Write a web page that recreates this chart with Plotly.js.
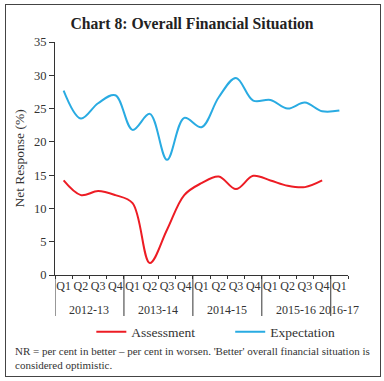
<!DOCTYPE html>
<html><head><meta charset="utf-8">
<script src="https://cdn.plot.ly/plotly-3.0.1.min.js"></script>
<style>
html,body{margin:0;padding:0;background:#fff;}
#wrap{position:relative;width:384px;height:381px;}
#chart{width:384px;height:381px;}
#frame{position:absolute;left:5px;top:4px;width:374px;height:371px;border:1.5px solid #444;pointer-events:none;}
</style>
</head><body>
<div id="wrap"><div id="chart"></div><div id="frame"></div></div>
<script>
const years = ["2012-13","2012-13","2012-13","2012-13","2013-14","2013-14","2013-14","2013-14","2014-15","2014-15","2014-15","2014-15","2015-16","2015-16","2015-16","2015-16","2016-17"];
const quarters = ["Q1","Q2","Q3","Q4","Q1","Q2","Q3","Q4","Q1","Q2","Q3","Q4","Q1","Q2","Q3","Q4","Q1"];
const assessment = [14.2,12.0,12.6,12.0,10.8,1.8,6.8,12.0,13.8,14.8,12.9,14.9,14.2,13.4,13.2,14.2,null];
const expectation = [27.7,23.5,25.8,27.0,21.8,24.2,17.3,23.6,22.2,26.7,29.6,26.2,26.3,25.0,25.9,24.6,24.7];

const font = "Liberation Serif, Times New Roman, serif";
const cats = years.map((y, i) => y + " " + quarters[i]);

// year groups: centers and boundaries derived from the years array
const groups = [];
years.forEach((y, i) => {
  const g = groups[groups.length - 1];
  if (g && g.name === y) g.end = i; else groups.push({name: y, start: i, end: i});
});

const traces = [
  {x:cats, y:assessment, name:"Assessment", type:"scatter", mode:"lines", legend:"legend",
   line:{color:"#ed1c24", width:2, shape:"spline", smoothing:1}},
  {x:cats, y:expectation, name:"Expectation", type:"scatter", mode:"lines", legend:"legend2",
   line:{color:"#29abe2", width:2, shape:"spline", smoothing:1}}
];

const shapes = groups.map(g => ({type:"line", xref:"x", yref:"paper", x0:g.start - 0.5, x1:g.start - 0.5,
  y0:0, y1:-0.176, line:{color:"#333", width:1}}));
const annotations = groups.map(g => ({xref:"x", yref:"paper", x:(g.start + g.end) / 2, y:-0.15,
  xanchor:"center", yanchor:"middle", showarrow:false, text:g.name, font:{family:font, size:12, color:"#333"}}));
annotations.push({xref:"paper", yref:"paper", x:-0.143, y:-0.29, xanchor:"left", yanchor:"top", align:"left", showarrow:false,
  text:"NR = per cent in better – per cent in worsen. 'Better' overall financial situation is<br>considered optimistic.",
  font:{family:font, size:11, color:"#333"}});

const legendBase = {orientation:"h", xanchor:"left", y:-0.178, yanchor:"top", itemwidth:30,
  font:{family:font, size:13.5, color:"#333"}, bgcolor:"rgba(0,0,0,0)"};

const layout = {
  width:384, height:381,
  margin:{l:55, r:36, t:42, b:106},
  paper_bgcolor:"#fff", plot_bgcolor:"#fff",
  font:{family:font, color:"#333", size:12},
  title:{text:"<b>Chart 8: Overall Financial Situation</b>", x:0.5, xanchor:"center", y:0.937, yanchor:"middle",
         font:{family:font, size:15.7, color:"#222"}},
  showlegend:true,
  legend:Object.assign({}, legendBase, {x:0.124}),
  legend2:Object.assign({}, legendBase, {x:0.598}),
  xaxis:{type:"category", range:[-0.5,16.5], autorange:false, showline:true, linecolor:"#333", linewidth:1,
         ticks:"outside", ticklen:3, tickcolor:"#333", tickson:"boundaries", tickangle:0,
         tickvals:cats, ticktext:quarters,
         tickfont:{family:font, size:12, color:"#333"}, showgrid:false, zeroline:false},
  yaxis:{range:[0,35], dtick:5, showline:true, linecolor:"#333", linewidth:1,
         ticks:"outside", ticklen:5, tickcolor:"#333", showgrid:false, zeroline:false,
         tickfont:{family:font, size:12.5, color:"#333"},
         title:{text:"Net Response (%)", font:{family:font, size:13.5, color:"#333"}, standoff:6}},
  shapes:shapes,
  annotations:annotations
};
Plotly.newPlot("chart", traces, layout, {displayModeBar:false, staticPlot:true});
</script>
</body></html>
